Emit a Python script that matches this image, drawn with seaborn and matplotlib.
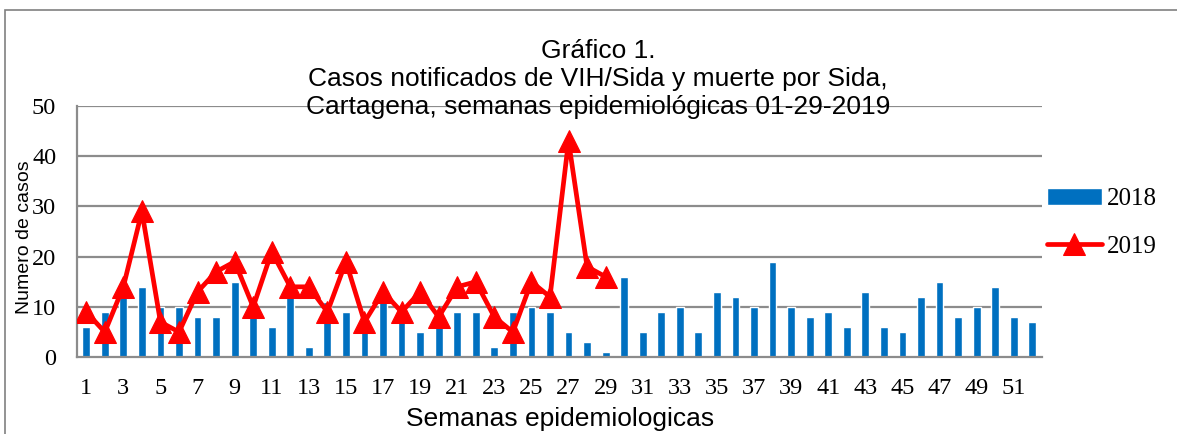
import numpy as np
import pandas as pd
import matplotlib
matplotlib.use("Agg")
import matplotlib.pyplot as plt
from matplotlib.patches import Rectangle
import seaborn as sns

semanas = list(range(1, 53))
casos_2018 = [6, 9, 12, 14, 10, 10, 8, 8, 15, 9, 6, 12, 2, 11, 9, 7, 11, 8, 5, 8,
              9, 9, 2, 9, 10, 9, 5, 3, 1, 16, 5, 9, 10, 5, 13, 12, 10, 19, 10, 8,
              9, 6, 13, 6, 5, 12, 15, 8, 10, 14, 8, 7]
casos_2019 = [9, 5, 14, 29, 7, 5, 13, 17, 19, 10, 21, 14, 14, 9, 19, 7, 13, 9, 13, 8,
              14, 15, 8, 5, 15, 12, 43, 18, 16]
tick_labels = [str(s) if s % 2 == 1 else "" for s in semanas]

titulo = "Gráfico 1.\nCasos notificados de VIH/Sida y muerte por Sida,\nCartagena, semanas epidemiológicas 01-29-2019"

sns.set_style("white")
plt.rcParams['font.family'] = ['Liberation Sans', 'DejaVu Sans']
plt.rcParams['text.color'] = 'black'
plt.rcParams['axes.labelcolor'] = 'black'

df18 = pd.DataFrame({"semana": semanas, "casos": casos_2018})
df19 = pd.DataFrame({"pos": np.arange(len(casos_2019)), "casos": casos_2019})

fig = plt.figure(figsize=(11.77, 4.34), dpi=100)
ax = fig.add_axes([0.0654, 0.177, 0.8195, 0.579])

grid_c = "#8c8c8c"
for v in range(10, 51, 10):
    ax.axhline(v, color=grid_c, lw=1.6, zorder=0)

sns.barplot(data=df18, x="semana", y="casos", color="#0070C0", width=0.42,
            saturation=1, ax=ax, label="2018", zorder=2)
sns.lineplot(data=df19, x="pos", y="casos", color="#FF0000", lw=3.4,
             marker="^", markersize=16, markeredgecolor="#FF0000",
             ax=ax, label="2019", zorder=3)

ax.set_xlim(-0.5, len(semanas) - 0.5)
ax.set_ylim(0, 50)
ax.set_yticks(range(0, 51, 10))
ax.set_xticks(np.arange(len(semanas)))
ax.set_xticklabels(tick_labels, family='Liberation Serif', fontsize=17.5)
for lab in ax.get_yticklabels():
    lab.set_family('Liberation Serif')
    lab.set_fontsize(17.5)
ax.tick_params(axis='x', length=0, pad=15, labelcolor='black')
ax.tick_params(axis='y', length=7, color=grid_c, width=1.4, pad=8, direction='out',
               labelcolor='black')

# category boundary ticks
ax.set_xticks(np.arange(len(semanas) + 1) - 0.5, minor=True)
ax.tick_params(axis='x', which='minor', length=7, color=grid_c, width=1.4, direction='out')

for s in ["top", "right"]:
    ax.spines[s].set_visible(False)
ax.spines["left"].set_color(grid_c)
ax.spines["left"].set_linewidth(1.6)
ax.spines["bottom"].set_color(grid_c)
ax.spines["bottom"].set_linewidth(1.6)

ax.set_xlabel("Semanas epidemiologicas", fontsize=19, labelpad=0)
ax.set_ylabel("Numero de casos", fontsize=14)
ax.yaxis.set_label_coords(-0.046, 0.478)
ax.xaxis.set_label_coords(0.501, -0.2)

ax.set_title(titulo, fontsize=19, linespacing=1.22, pad=-6, x=0.54, zorder=5, color='black')

handles, labels = ax.get_legend_handles_labels()
order = [labels.index("2018"), labels.index("2019")]
leg = ax.legend([handles[i] for i in order], [labels[i] for i in order],
                loc="center left", bbox_to_anchor=(0.995, 0.535), frameon=False,
                prop={'family': 'Liberation Serif', 'size': 18},
                handlelength=2.2, handletextpad=0.2, labelspacing=1.0, borderaxespad=0)

fig.patches.append(Rectangle((0.004, -0.1), 1.1, 1.077, transform=fig.transFigure,
                             fill=False, edgecolor="#808080", lw=1.2))

fig.savefig("out.png", dpi=100)
